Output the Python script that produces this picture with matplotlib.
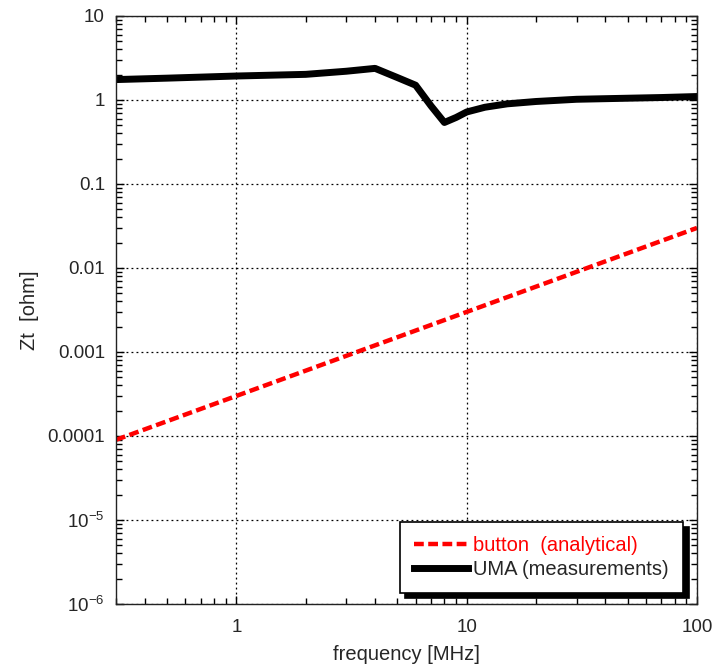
import matplotlib
matplotlib.use("Agg")
import matplotlib.pyplot as plt
from matplotlib.ticker import FixedLocator, FixedFormatter, LogLocator, NullFormatter

plt.rcParams['font.family'] = ['Liberation Sans', 'DejaVu Sans']
plt.rcParams['mathtext.fontset'] = 'custom'
plt.rcParams['mathtext.rm'] = 'Liberation Sans'
plt.rcParams['mathtext.it'] = 'Liberation Sans'
plt.rcParams['mathtext.bf'] = 'Liberation Sans'

# Data
freq_button = [0.3, 1, 3, 10, 30, 100]
zt_button = [9e-5, 3e-4, 9e-4, 3e-3, 9e-3, 3e-2]

freq_uma = [0.3, 0.5, 1, 2, 3, 4, 5, 6, 7, 8, 9, 10, 12, 15, 20, 30, 50, 70, 100]
zt_uma = [1.75, 1.82, 1.93, 2.02, 2.2, 2.38, 1.85, 1.5, 0.85, 0.54, 0.62, 0.72, 0.82, 0.9, 0.96, 1.02, 1.05, 1.07, 1.1]

y_ticks = [1e-6, 1e-5, 1e-4, 1e-3, 1e-2, 1e-1, 1, 10]
y_ticklabels = ['10$^{-6}$', '10$^{-5}$', '0.0001', '0.001', '0.01', '0.1', '1', '10']
x_ticks = [1, 10, 100]
x_ticklabels = ['1', '10', '100']

fig = plt.figure(figsize=(7.17, 6.66), dpi=100)
ax = fig.add_axes([116/717, 62/666, 581/717, 588/666])

ax.plot(freq_button, zt_button, color='#ff0000', lw=3.2, ls=(0, (2.2, 1.0)),
        label='button  (analytical)', solid_capstyle='butt', dash_capstyle='butt')
ax.plot(freq_uma, zt_uma, color='black', lw=5.0, label='UMA (measurements)',
        solid_joinstyle='round')

ax.set_xscale('log')
ax.set_yscale('log')
ax.set_xlim(0.3, 100)
ax.set_ylim(1e-6, 10)

ax.yaxis.set_major_locator(FixedLocator(y_ticks))
ax.yaxis.set_major_formatter(FixedFormatter(y_ticklabels))
ax.xaxis.set_major_locator(FixedLocator(x_ticks))
ax.xaxis.set_major_formatter(FixedFormatter(x_ticklabels))
ax.xaxis.set_minor_locator(LogLocator(base=10, subs=range(2, 10), numticks=20))
ax.yaxis.set_minor_locator(LogLocator(base=10, subs=range(2, 10), numticks=20))
ax.xaxis.set_minor_formatter(NullFormatter())
ax.yaxis.set_minor_formatter(NullFormatter())

textc = '#262626'
ax.tick_params(which='both', direction='in', top=True, right=True, colors='black',
               labelcolor=textc, labelsize=13.5, width=1)
ax.tick_params(axis='x', which='major', length=6, pad=11)
ax.tick_params(axis='y', which='major', length=6, pad=8)
ax.tick_params(which='minor', length=4)

ax.grid(True, which='major', color='black', ls=(0, (1.5, 2.5)), lw=0.9)
for s in ax.spines.values():
    s.set_linewidth(1.0)
    s.set_color('#222222')

ax.set_xlabel('frequency [MHz]', fontsize=14.5, color=textc, labelpad=6)
ax.set_ylabel('Zt  [ohm]', fontsize=14.5, color=textc, labelpad=6)

leg = ax.legend(loc='lower right', bbox_to_anchor=(0.976, 0.019), fontsize=14.5,
                fancybox=False, framealpha=1, edgecolor='black', handlelength=2.7,
                handletextpad=0.25, borderpad=0.7, labelspacing=0.25, borderaxespad=0,
                shadow={'color': 'black', 'alpha': 1, 'ox': 4, 'oy': -4})
leg.get_frame().set_linewidth(1.2)
leg.get_texts()[0].set_color('#ff0000')
leg.get_texts()[1].set_color(textc)

fig.savefig('out.png', dpi=100)
